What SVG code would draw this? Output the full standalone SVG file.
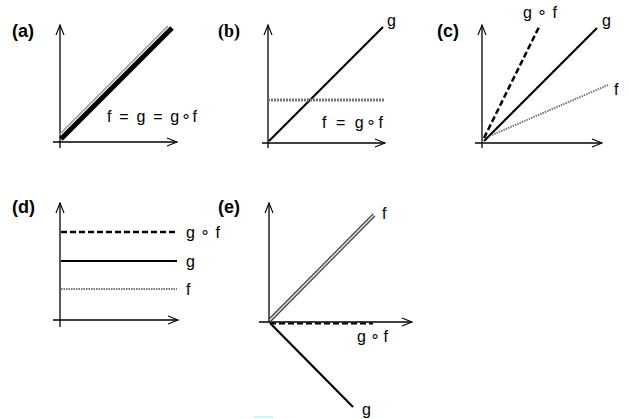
<svg xmlns="http://www.w3.org/2000/svg" width="629" height="419" viewBox="0 0 629 419">
<defs>
<style>
.ax{stroke:#000;stroke-width:1.3;fill:none}
.hd{stroke:#000;stroke-width:1.1;fill:none}
.solid{stroke:#000;stroke-width:2.2;fill:none}
.dash{stroke:#000;stroke-width:2.5;stroke-dasharray:6,3;fill:none}
.grey{stroke:#777;stroke-width:2;stroke-dasharray:1.5,1;fill:none}
.lbl{font-family:"Liberation Sans",Arial,sans-serif;font-size:16px;fill:#000}
.tag{font-family:"Liberation Sans",Arial,sans-serif;font-size:18px;font-weight:bold;fill:#000}
</style>
</defs>
<rect width="629" height="419" fill="#fff"/>

<g id="panel-a">
<text class="tag" x="12" y="37">(a)</text>
<line class="ax" x1="60" y1="25" x2="60" y2="148"/>
<line class="ax" x1="53" y1="142" x2="177" y2="142"/>
<polyline class="hd" points="56,35 60,25 64,35"/>
<polyline class="hd" points="167,138 177,142 167,146"/>
<line x1="61" y1="139" x2="172" y2="28" stroke="#000" stroke-width="5"/>
<line x1="59" y1="135" x2="168" y2="26" stroke="#999" stroke-width="1.6"/>
<text class="lbl" x="107" y="122" textLength="90" lengthAdjust="spacing">f = g = g∘f</text>
</g>

<g id="panel-b">
<text class="tag" x="218" y="37" style="font-family:'Liberation Serif',serif">(b)</text>
<line class="ax" x1="268" y1="25" x2="268" y2="148"/>
<line class="ax" x1="262" y1="143" x2="385" y2="143"/>
<polyline class="hd" points="264,35 268,25 272,35"/>
<polyline class="hd" points="375,139 385,143 375,147"/>
<line class="solid" x1="269" y1="141" x2="383" y2="27"/>
<line x1="268" y1="100" x2="385" y2="100" stroke="#777" stroke-width="3" stroke-dasharray="2,1"/>
<text class="lbl" x="387" y="26">g</text>
<text class="lbl" x="322" y="128" textLength="61" lengthAdjust="spacing">f = g∘f</text>
</g>

<g id="panel-c">
<text class="tag" x="437" y="37">(c)</text>
<line class="ax" x1="482" y1="25" x2="482" y2="148"/>
<line class="ax" x1="475" y1="143" x2="602" y2="143"/>
<polyline class="hd" points="478,35 482,25 486,35"/>
<polyline class="hd" points="592,139 602,143 592,147"/>
<line class="dash" x1="484" y1="138" x2="540" y2="25"/>
<line class="solid" x1="484" y1="141" x2="597" y2="28"/>
<line class="grey" x1="492" y1="135" x2="608" y2="85"/>
<text class="lbl" x="523" y="18" textLength="34" lengthAdjust="spacing">g∘f</text>
<text class="lbl" x="602" y="26">g</text>
<text class="lbl" x="614" y="95">f</text>
</g>

<g id="panel-d">
<text class="tag" x="12" y="213">(d)</text>
<line class="ax" x1="60" y1="203" x2="60" y2="327"/>
<line class="ax" x1="53" y1="320" x2="178" y2="320"/>
<polyline class="hd" points="56,213 60,203 64,213"/>
<polyline class="hd" points="168,316 178,320 168,324"/>
<line class="dash" x1="61" y1="232" x2="177" y2="232"/>
<line class="solid" x1="61" y1="261" x2="177" y2="261"/>
<line class="grey" x1="61" y1="289" x2="177" y2="289"/>
<text class="lbl" x="186" y="238" textLength="34" lengthAdjust="spacing">g∘f</text>
<text class="lbl" x="186" y="267">g</text>
<text class="lbl" x="186" y="295">f</text>
</g>

<g id="panel-e">
<text class="tag" x="218" y="213">(e)</text>
<line class="ax" x1="269" y1="203" x2="269" y2="322"/>
<line class="ax" x1="259" y1="322" x2="412" y2="322"/>
<polyline class="hd" points="265,213 269,203 273,213"/>
<polyline class="hd" points="402,318 412,322 402,326"/>
<line x1="270" y1="320" x2="374" y2="215" stroke="#444" stroke-width="4"/>
<line x1="270" y1="320" x2="374" y2="215" stroke="#ddd" stroke-width="1.6"/>
<line class="dash" x1="270" y1="323.5" x2="373" y2="323.5" style="stroke-width:2"/>
<line class="solid" x1="270" y1="323" x2="353" y2="407"/>
<text class="lbl" x="382" y="219">f</text>
<text class="lbl" x="357" y="342" textLength="31" lengthAdjust="spacing">g∘f</text>
<text class="lbl" x="362" y="415">g</text>
</g>
<rect x="254" y="416" width="19" height="2" fill="#c8f6f0"/>
</svg>
